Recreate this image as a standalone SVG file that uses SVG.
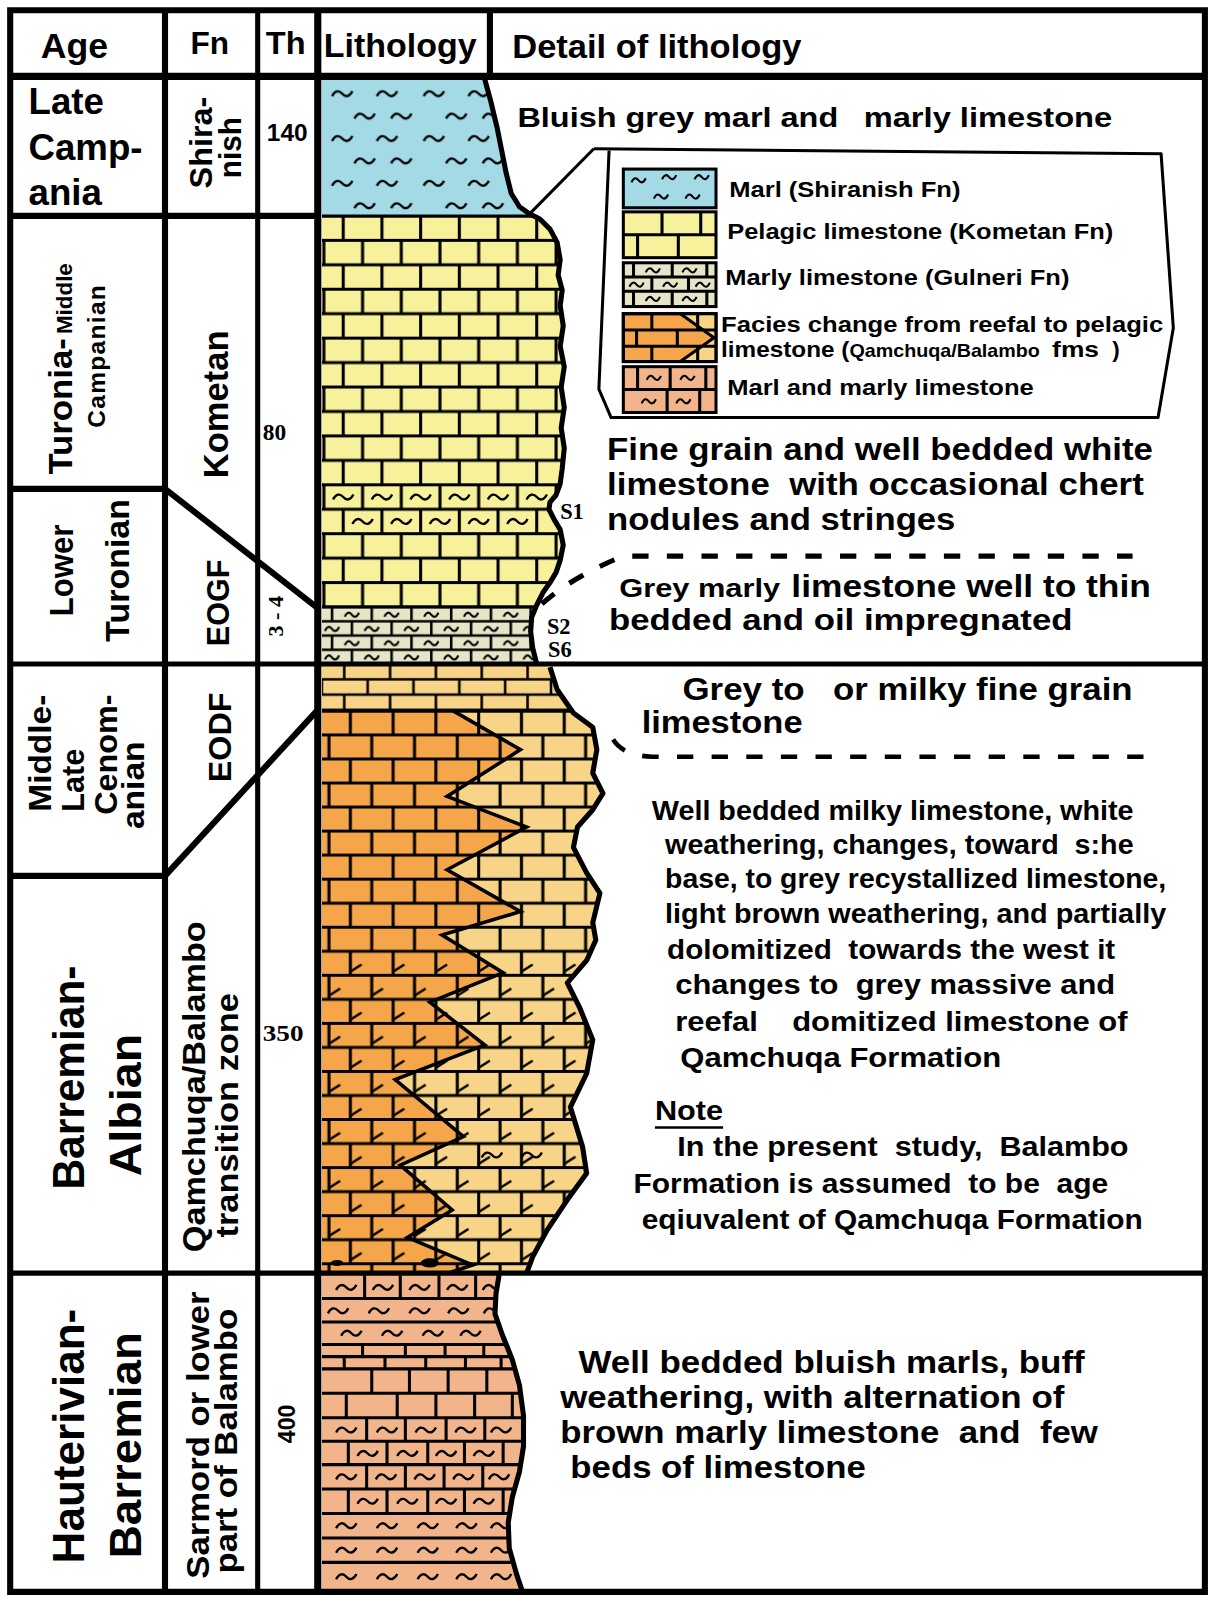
<svg xmlns="http://www.w3.org/2000/svg" width="1208" height="1597" viewBox="0 0 1208 1597">
<style>
text{font-family:"Liberation Sans",Arial,sans-serif;font-weight:bold;fill:#000}
.sf{font-family:"Liberation Serif","Times New Roman",serif}
.k{stroke:#000;fill:none}
.bl{stroke:#000;stroke-width:3;fill:none}
</style>
<defs>
<path id="tl" d="M-10,2.5 C-7,-3.5 -3,-3.5 0,0 S7,3.5 10,-2.5" fill="none" stroke="#000" stroke-width="2.3"/>
<path id="ts" d="M-7,2 C-4.7,-3 -2.3,-3 0,0 S4.7,3 7,-2" fill="none" stroke="#000" stroke-width="2"/>
<pattern id="pm" patternUnits="userSpaceOnUse" x="316" y="80" width="90" height="44">
<use href="#tl" x="20" y="12"/><use href="#tl" x="64" y="12"/><use href="#tl" x="42" y="34"/><use href="#tl" x="78" y="34"/>
</pattern>
<pattern id="pk" patternUnits="userSpaceOnUse" x="316" y="212" width="76" height="48">
<path d="M0,0H76M0,24H76M0,48H76M21,0V24M59,0V24M2,24V48M40,24V48" class="bl"/>
</pattern>
<pattern id="pg" patternUnits="userSpaceOnUse" x="316" y="596" width="78" height="28">
<path d="M0,0H78M0,14H78M0,28H78M10,0V14M49,0V14M29.5,14V28M68.5,14V28" stroke="#000" stroke-width="2.5" fill="none"/>
<use href="#ts" x="29.5" y="7.5"/><use href="#ts" x="68.5" y="7.5"/><use href="#ts" x="49" y="21.5"/><use href="#ts" x="10" y="21.5"/>
</pattern>
<pattern id="pe" patternUnits="userSpaceOnUse" x="316" y="652" width="90" height="30">
<path d="M0,0H90M0,15H90M0,30H90M22,0V15M67,0V15M0,15V30M45,15V30M90,15V30" stroke="#000" stroke-width="2.5" fill="none"/>
</pattern>
<pattern id="po" patternUnits="userSpaceOnUse" x="316" y="698" width="84" height="47.2">
<path d="M0,0H84M0,23.6H84M0,47.2H84M28,0V23.6M70,0V23.6M7,23.6V47.2M49,23.6V47.2" class="bl"/>
</pattern>
<pattern id="pt" patternUnits="userSpaceOnUse" x="316" y="698" width="84" height="47.2">
<path d="M28,20L39,13M70,20L81,13M7,43.6L18,36.6M49,43.6L60,36.6" stroke="#000" stroke-width="2.5" fill="none"/>
</pattern>
<clipPath id="lc"><path d="M316,78 L476,78 L482,100 L488,125 L493,150 L497,170 L502,190 L510,203 L520,210 L530,215 L540,225 L547,238 L550,255 L548,270 L552,285 L550,300 L553,320 L550,340 L554,360 L551,380 L554,400 L551,420 L554,440 L552,460 L550,475 L546,486 L540,493 L539,500 L544,510 L550,520 L553,535 L550,550 L546,562 L540,572 L533,582 L527,594 L522,606 L521,620 L523,636 L527,652 L540,655 L547,677 L563,700 L582,714 L586,736 L582,759 L592,779 L582,795 L567,812 L563,832 L576,857 L589,877 L582,906 L585,923 L576,943 L557,965 L569,989 L582,1021 L576,1054 L560,1087 L572,1126 L576,1152 L557,1178 L537,1208 L523,1234 L517,1250 L490,1252 L487,1270 L486,1290 L493,1310 L503,1335 L510,1360 L514,1390 L514,1420 L510,1445 L503,1470 L499,1495 L500,1520 L507,1545 L513,1563 L316,1563 Z"/></clipPath>
</defs>
<rect width="1208" height="1597" fill="#fff"/>
<g transform="scale(1.0185)">

<g id="lithology">
<g clip-path="url(#lc)">
<rect x="316" y="78" width="300" height="134" fill="#a4dae6"/>
<rect x="316" y="78" width="300" height="134" fill="url(#pm)"/>
<rect x="316" y="212" width="300" height="384" fill="#f7f19b"/>
<rect x="316" y="212" width="300" height="384" fill="url(#pk)"/>
<g>
<use href="#tl" x="337" y="488"/><use href="#tl" x="375" y="488"/><use href="#tl" x="413" y="488"/><use href="#tl" x="451" y="488"/><use href="#tl" x="489" y="488"/><use href="#tl" x="527" y="488"/>
<use href="#tl" x="356" y="512"/><use href="#tl" x="394" y="512"/><use href="#tl" x="432" y="512"/><use href="#tl" x="470" y="512"/><use href="#tl" x="508" y="512"/>
</g>
<rect x="316" y="596" width="300" height="56" fill="#e7e5c8"/>
<rect x="316" y="596" width="300" height="56" fill="url(#pg)"/>
<rect x="316" y="652" width="300" height="46" fill="#f7d488"/>
<rect x="316" y="652" width="300" height="46" fill="url(#pe)"/>
<rect x="316" y="698" width="300" height="552" fill="#f5a64b"/>
<polygon points="445,698 511,736 439,782 517,812 439,854 511,895 434,918 494,955 422,984 476,1026 388,1060 455,1116 393,1144 444,1188 400,1215 464,1242 452,1250 620,1250 620,698" fill="#f7d488"/>
<rect x="316" y="698" width="300" height="552" fill="url(#po)"/>
<rect x="316" y="945" width="300" height="305" fill="url(#pt)"/>
<polyline points="445,698 511,736 439,782 517,812 439,854 511,895 434,918 494,955 422,984 476,1026 388,1060 455,1116 393,1144 444,1188 400,1215 464,1242 440,1250" fill="none" stroke="#000" stroke-width="3.5"/>
<use href="#tl" x="483" y="1134"/><use href="#tl" x="522" y="1134"/>
<ellipse cx="331" cy="1240" rx="6" ry="3" fill="#000"/>
<ellipse cx="422" cy="1240" rx="9" ry="4.5" fill="#000"/>
<rect x="316" y="1250" width="300" height="313" fill="#f2b58b"/>
<path class="bl" d="M316,1275H520M316,1298H520M316,1320H520M316,1332H520M316,1344H520M316,1368H520M316,1392H520M316,1415H520M316,1438H520M316,1462H520M316,1486H520M316,1510H520M316,1534H520
M358,1252V1275M393,1252V1275M431,1252V1275M467,1252V1275M500,1252V1275
M356,1320V1332M398,1320V1332M437,1320V1332M475,1320V1332
M338,1332V1344M378,1332V1344M418,1332V1344M457,1332V1344M492,1332V1344
M365,1344V1368M402,1344V1368M440,1344V1368M478,1344V1368
M340,1368V1392M390,1368V1392M428,1368V1392M466,1368V1392M503,1368V1392
M360,1392V1415M398,1392V1415M438,1392V1415M476,1392V1415
M342,1415V1438M380,1415V1438M420,1415V1438M456,1415V1438M494,1415V1438
M360,1438V1462M398,1438V1462M436,1438V1462M474,1438V1462
M342,1462V1486M380,1462V1486M420,1462V1486M456,1462V1486M494,1462V1486"/>
<g>
<use href="#tl" x="340" y="1264"/><use href="#tl" x="376" y="1264"/><use href="#tl" x="412" y="1264"/><use href="#tl" x="449" y="1264"/><use href="#tl" x="484" y="1264"/>
<use href="#tl" x="332" y="1287"/><use href="#tl" x="372" y="1287"/><use href="#tl" x="412" y="1287"/><use href="#tl" x="450" y="1287"/><use href="#tl" x="485" y="1287"/>
<use href="#tl" x="345" y="1309"/><use href="#tl" x="385" y="1309"/><use href="#tl" x="425" y="1309"/><use href="#tl" x="462" y="1309"/>
<use href="#tl" x="340" y="1404"/><use href="#tl" x="380" y="1404"/><use href="#tl" x="418" y="1404"/><use href="#tl" x="457" y="1404"/><use href="#tl" x="492" y="1404"/>
<use href="#tl" x="361" y="1427"/><use href="#tl" x="400" y="1427"/><use href="#tl" x="438" y="1427"/><use href="#tl" x="475" y="1427"/>
<use href="#tl" x="340" y="1450"/><use href="#tl" x="379" y="1450"/><use href="#tl" x="417" y="1450"/><use href="#tl" x="455" y="1450"/><use href="#tl" x="490" y="1450"/>
<use href="#tl" x="361" y="1474"/><use href="#tl" x="400" y="1474"/><use href="#tl" x="438" y="1474"/><use href="#tl" x="475" y="1474"/>
<use href="#tl" x="340" y="1498"/><use href="#tl" x="380" y="1498"/><use href="#tl" x="420" y="1498"/><use href="#tl" x="458" y="1498"/><use href="#tl" x="492" y="1498"/>
<use href="#tl" x="340" y="1522"/><use href="#tl" x="380" y="1522"/><use href="#tl" x="420" y="1522"/><use href="#tl" x="458" y="1522"/><use href="#tl" x="492" y="1522"/>
<use href="#tl" x="340" y="1548"/><use href="#tl" x="380" y="1548"/><use href="#tl" x="420" y="1548"/><use href="#tl" x="458" y="1548"/><use href="#tl" x="492" y="1548"/>
</g>
<path class="bl" d="M316,212H600M316,596H600M316,698H620"/>
</g>
<path class="k" stroke-width="5" stroke-linejoin="round" d="M476,78 L482,100 L488,125 L493,150 L497,170 L502,190 L510,203 L520,210 L530,215 L540,225 L547,238 L550,255 L548,270 L552,285 L550,300 L553,320 L550,340 L554,360 L551,380 L554,400 L551,420 L554,440 L552,460 L550,475 L546,486 L540,493 L539,500 L544,510 L550,520 L553,535 L550,550 L546,562 L540,572 L533,582 L527,594 L522,606 L521,620 L523,636 L527,652 M540,655 L547,677 L563,700 L582,714 L586,736 L582,759 L592,779 L582,795 L567,812 L563,832 L576,857 L589,877 L582,906 L585,923 L576,943 L557,965 L569,989 L582,1021 L576,1054 L560,1087 L572,1126 L576,1152 L557,1178 L537,1208 L523,1234 L517,1250 M490,1252 L487,1270 L486,1290 L493,1310 L503,1335 L510,1360 L514,1390 L514,1420 L510,1445 L503,1470 L499,1495 L500,1520 L507,1545 L513,1563"/>
<text x="550" y="510" class="sf" font-size="22">S1</text>
<text x="537" y="622" class="sf" font-size="22">S2</text>
<text x="538" y="645" class="sf" font-size="22">S6</text>
</g>

<g id="frame" class="k">
<path d="M10,10H1183V1563H10Z" stroke-width="6"/>
<path d="M10,75H1183" stroke-width="7"/>
<path d="M162,10V1563" stroke-width="6"/>
<path d="M253,10V1563" stroke-width="5"/>
<path d="M312,10V1563" stroke-width="7"/>
<path d="M481,10V75" stroke-width="6"/>
<path d="M10,212H312" stroke-width="6"/>
<path d="M10,480H162" stroke-width="6"/>
<path d="M10,652H1183" stroke-width="5"/>
<path d="M10,860H162" stroke-width="6"/>
<path d="M10,1250H1183" stroke-width="5"/>
<path d="M162,480L312,597" stroke-width="6"/>
<path d="M162,860L312,697" stroke-width="6"/>
</g>

<g id="header">
<text x="40" y="57" font-size="35">Age</text>
<text x="187" y="53" font-size="31">Fn</text>
<text x="261" y="53" font-size="31" textLength="39" lengthAdjust="spacingAndGlyphs">Th</text>
<text x="318" y="56" font-size="33" textLength="150" lengthAdjust="spacingAndGlyphs">Lithology</text>
<text x="503" y="57" font-size="32" textLength="284" lengthAdjust="spacingAndGlyphs">Detail of lithology</text>
</g>

<g id="age-col">
<text x="28" y="112" font-size="36">Late</text>
<text x="28" y="157" font-size="36">Camp-</text>
<text x="28" y="201" font-size="36">ania</text>
<text transform="translate(71,466) rotate(-90)" font-size="32"><tspan textLength="134" lengthAdjust="spacingAndGlyphs">Turonia-</tspan><tspan font-size="22" dx="4">Middle</tspan></text>
<text transform="translate(103,350) rotate(-90)" font-size="24" text-anchor="middle" textLength="140" lengthAdjust="spacing">Campanian</text>
<text transform="translate(72,560) rotate(-90)" font-size="32" text-anchor="middle" textLength="90" lengthAdjust="spacingAndGlyphs">Lower</text>
<text transform="translate(127,560) rotate(-90)" font-size="32" text-anchor="middle" textLength="140" lengthAdjust="spacingAndGlyphs">Turonian</text>
<text transform="translate(50,797) rotate(-90)" font-size="31" textLength="115" lengthAdjust="spacingAndGlyphs">Middle-</text>
<text transform="translate(82,797) rotate(-90)" font-size="31" textLength="62" lengthAdjust="spacingAndGlyphs">Late</text>
<text transform="translate(115,800) rotate(-90)" font-size="31" textLength="118" lengthAdjust="spacingAndGlyphs">Cenom-</text>
<text transform="translate(141,814) rotate(-90)" font-size="31" textLength="86" lengthAdjust="spacingAndGlyphs">anian</text>
<text transform="translate(82,1058) rotate(-90)" font-size="43" text-anchor="middle" textLength="220" lengthAdjust="spacingAndGlyphs">Barremian-</text>
<text transform="translate(138,1085) rotate(-90)" font-size="43" text-anchor="middle" textLength="140" lengthAdjust="spacingAndGlyphs">Albian</text>
<text transform="translate(82,1410) rotate(-90)" font-size="43" text-anchor="middle" textLength="250" lengthAdjust="spacingAndGlyphs">Hauterivian-</text>
<text transform="translate(138,1419) rotate(-90)" font-size="43" text-anchor="middle" textLength="222" lengthAdjust="spacingAndGlyphs">Barremian</text>
</g>

<g id="fn-col">
<text transform="translate(208,140) rotate(-90)" font-size="30" text-anchor="middle" textLength="90" lengthAdjust="spacingAndGlyphs">Shira-</text>
<text transform="translate(237,145) rotate(-90)" font-size="30" text-anchor="middle" textLength="60" lengthAdjust="spacingAndGlyphs">nish</text>
<text transform="translate(224,397) rotate(-90)" font-size="34" text-anchor="middle" textLength="145" lengthAdjust="spacingAndGlyphs">Kometan</text>
<text transform="translate(225,592) rotate(-90)" font-size="30" text-anchor="middle" textLength="85" lengthAdjust="spacingAndGlyphs">EOGF</text>
<text transform="translate(227,724) rotate(-90)" font-size="30" text-anchor="middle" textLength="88" lengthAdjust="spacingAndGlyphs">EODF</text>
<text transform="translate(201,1067) rotate(-90)" font-size="31" text-anchor="middle" textLength="325" lengthAdjust="spacingAndGlyphs">Qamchuqa/Balambo</text>
<text transform="translate(234,1095) rotate(-90)" font-size="31" text-anchor="middle" textLength="240" lengthAdjust="spacingAndGlyphs">transition zone</text>
<text transform="translate(205,1409) rotate(-90)" font-size="31" text-anchor="middle" textLength="282" lengthAdjust="spacingAndGlyphs">Sarmord or lower</text>
<text transform="translate(233,1415) rotate(-90)" font-size="31" text-anchor="middle" textLength="260" lengthAdjust="spacingAndGlyphs">part of Balambo</text>
</g>

<g id="th-col">
<text x="262" y="138" font-size="24" textLength="40" lengthAdjust="spacingAndGlyphs">140</text>
<text x="258" y="432" class="sf" font-size="23">80</text>
<text transform="translate(278,605) rotate(-90)" class="sf" font-size="20" font-weight="normal" text-anchor="middle" textLength="40" lengthAdjust="spacingAndGlyphs">3 - 4</text>
<text x="258" y="1022" class="sf" font-size="23" textLength="40" lengthAdjust="spacingAndGlyphs">350</text>
<text transform="translate(290,1398) rotate(-90)" font-size="23" text-anchor="middle" textLength="38" lengthAdjust="spacingAndGlyphs">400</text>
</g>

<g id="legend">
<path class="k" stroke-width="3" stroke-linejoin="round" d="M583,146 L1140,151 L1152,322 L1137,410 L600,410 L588,382 L598,148"/>
<rect x="612" y="166" width="91" height="38" fill="#a4dae6" stroke="#000" stroke-width="3"/>
<use href="#ts" x="627" y="177"/><use href="#ts" x="657" y="174"/><use href="#ts" x="689" y="174"/><use href="#ts" x="649" y="193"/><use href="#ts" x="680" y="193"/>
<rect x="612" y="208" width="91" height="45" fill="#f7f19b" stroke="#000" stroke-width="3"/>
<path class="bl" d="M612,230.5H703M650,208V230.5M688,208V230.5M626,230.5V253M666,230.5V253"/>
<rect x="612" y="258" width="91" height="43" fill="#e7e5c8" stroke="#000" stroke-width="3"/>
<path class="bl" stroke-width="2.5" d="M612,272H703M612,286H703M622,258V272M660,258V272M694,258V272M640,272V286M676,272V286M622,286V300M660,286V300M694,286V300"/>
<use href="#ts" x="641" y="265.5"/><use href="#ts" x="677" y="265.5"/><use href="#ts" x="625" y="279.5"/><use href="#ts" x="658" y="279.5"/><use href="#ts" x="690" y="279.5"/><use href="#ts" x="641" y="293.5"/><use href="#ts" x="677" y="293.5"/>
<rect x="612" y="308" width="91" height="47" fill="#f5a64b" stroke="#000" stroke-width="3"/>
<polygon points="668,309.5 701.5,309.5 701.5,353.5 668,353.5 700,331.5" fill="#f7d488"/>
<path class="bl" stroke-width="2.5" d="M612,324H703M612,340H703M640,308V324M685,308V324M625,324V340M665,324V340M640,340V355M685,340V355"/>
<polyline points="668,308 701,331.5 668,355" fill="none" stroke="#000" stroke-width="3"/>
<rect x="612" y="308" width="91" height="47" fill="none" stroke="#000" stroke-width="3"/>
<rect x="612" y="360" width="91" height="45" fill="#f2b58b" stroke="#000" stroke-width="3"/>
<path class="bl" d="M612,382.5H703M626,360V382.5M658,360V382.5M693,360V382.5M655,382.5V405M687,382.5V405"/>
<use href="#ts" x="642" y="371"/><use href="#ts" x="675" y="371"/><use href="#ts" x="637" y="394"/><use href="#ts" x="671" y="394"/>
<text x="716" y="193" font-size="22" textLength="227" lengthAdjust="spacingAndGlyphs">Marl (Shiranish Fn)</text>
<text x="714" y="235" font-size="22" textLength="379" lengthAdjust="spacingAndGlyphs">Pelagic limestone (Kometan Fn)</text>
<text x="712" y="280" font-size="22" textLength="338" lengthAdjust="spacingAndGlyphs">Marly limestone (Gulneri Fn)</text>
<text x="708" y="326" font-size="22" textLength="434" lengthAdjust="spacingAndGlyphs">Facies change from reefal to pelagic</text>
<text x="708" y="351" font-size="22"><tspan textLength="126" lengthAdjust="spacingAndGlyphs">limestone (</tspan><tspan font-size="18" textLength="187" lengthAdjust="spacingAndGlyphs">Qamchuqa/Balambo</tspan><tspan x="1033" textLength="46" lengthAdjust="spacingAndGlyphs">fms</tspan><tspan x="1092">)</tspan></text>
<text x="714" y="388" font-size="22" textLength="301" lengthAdjust="spacingAndGlyphs">Marl and marly limestone</text>
</g>

<g id="connectors" class="k">
<path d="M520,210 L583,146" stroke-width="3"/>
<path d="M532,593 Q562,566 612,546 L1112,546" stroke-width="5" stroke-dasharray="16 18"/>
<path d="M602,726 Q612,742 640,743 L1135,743" stroke-width="4.5" stroke-dasharray="16 18"/>
</g>

<g id="details">
<text x="508" y="125" font-size="28"><tspan textLength="315" lengthAdjust="spacingAndGlyphs">Bluish grey marl and</tspan><tspan x="848" textLength="244" lengthAdjust="spacingAndGlyphs">marly limestone</tspan></text>
<text x="596" y="452" font-size="31" textLength="536" lengthAdjust="spacingAndGlyphs">Fine grain and well bedded white</text>
<text x="596" y="486" font-size="31" textLength="527" lengthAdjust="spacingAndGlyphs" xml:space="preserve">limestone  with occasional chert</text>
<text x="596" y="520" font-size="31" textLength="342" lengthAdjust="spacingAndGlyphs">nodules and stringes</text>
<text x="608" y="586"><tspan font-size="26" textLength="158" lengthAdjust="spacingAndGlyphs">Grey marly</tspan><tspan x="777" font-size="30" textLength="353" lengthAdjust="spacingAndGlyphs">limestone well to thin</tspan></text>
<text x="598" y="619" font-size="29" textLength="455" lengthAdjust="spacingAndGlyphs">bedded and oil impregnated</text>
<text x="670" y="687" font-size="30"><tspan textLength="120" lengthAdjust="spacingAndGlyphs">Grey to</tspan><tspan x="818" textLength="294" lengthAdjust="spacingAndGlyphs">or milky fine grain</tspan></text>
<text x="630" y="720" font-size="30" textLength="158" lengthAdjust="spacingAndGlyphs">limestone</text>
<g font-size="28">
<text x="640" y="805" textLength="473" lengthAdjust="spacingAndGlyphs">Well bedded milky limestone, white</text>
<text x="653" y="838" textLength="460" lengthAdjust="spacingAndGlyphs" xml:space="preserve">weathering, changes, toward  s:he</text>
<text x="653" y="872" textLength="492" lengthAdjust="spacingAndGlyphs">base, to grey recystallized limestone,</text>
<text x="653" y="906" textLength="492" lengthAdjust="spacingAndGlyphs">light brown weathering, and partially</text>
<text x="655" y="942" textLength="440" lengthAdjust="spacingAndGlyphs" xml:space="preserve">dolomitized  towards the west it</text>
<text x="663" y="976" textLength="432" lengthAdjust="spacingAndGlyphs" xml:space="preserve">changes to  grey massive and</text>
<text x="663" y="1012" textLength="444" lengthAdjust="spacingAndGlyphs" xml:space="preserve">reefal    domitized limestone of</text>
<text x="668" y="1048" textLength="315" lengthAdjust="spacingAndGlyphs">Qamchuqa Formation</text>
<text x="643" y="1100" textLength="67" lengthAdjust="spacingAndGlyphs">Note</text>
<text x="665" y="1135" textLength="443" lengthAdjust="spacingAndGlyphs" xml:space="preserve">In the present  study,  Balambo</text>
<text x="622" y="1171" textLength="466" lengthAdjust="spacingAndGlyphs" xml:space="preserve">Formation is assumed  to be  age</text>
<text x="630" y="1207" textLength="492" lengthAdjust="spacingAndGlyphs">eqiuvalent of Qamchuqa Formation</text>
</g>
<path d="M643,1107H710" stroke="#000" stroke-width="2.5"/>
<g font-size="31">
<text x="568" y="1348" textLength="497" lengthAdjust="spacingAndGlyphs">Well bedded bluish marls, buff</text>
<text x="550" y="1382" textLength="495" lengthAdjust="spacingAndGlyphs">weathering, with alternation of</text>
<text x="550" y="1417" textLength="528" lengthAdjust="spacingAndGlyphs" xml:space="preserve">brown marly limestone  and  few</text>
<text x="560" y="1451" textLength="290" lengthAdjust="spacingAndGlyphs">beds of limestone</text>
</g>
</g>
</g>
</svg>
